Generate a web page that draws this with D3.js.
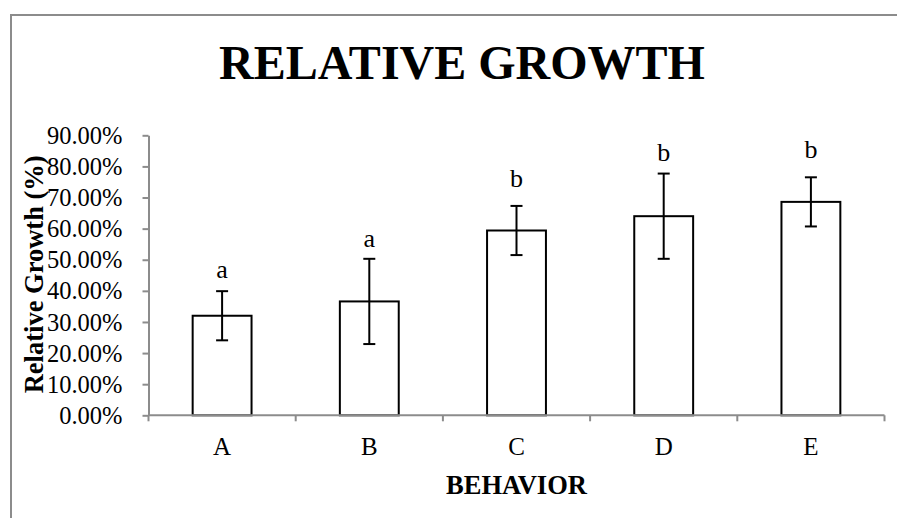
<!DOCTYPE html>
<html>
<head>
<meta charset="utf-8">
<script src="https://cdn.jsdelivr.net/npm/d3@7"></script>
<style>
  html, body { margin: 0; padding: 0; background: #fff; }
  svg { display: block; }
</style>
</head>
<body>
<svg id="chart" width="897" height="518"></svg>
<script>
// ---- data ----
const categories = ["A", "B", "C", "D", "E"];
const values     = [32.0, 36.6, 59.4, 64.0, 68.6];   // %
const errors     = [7.9, 13.7, 7.9, 13.7, 7.9];      // % (+/-)
const letters    = ["a", "a", "b", "b", "b"];
const letterPos  = [44.0, 54.2, 73.5, 81.7, 82.6];   // % (label baseline)
const yTicks     = [0, 10, 20, 30, 40, 50, 60, 70, 80, 90];
const titleText  = "RELATIVE GROWTH";
const xTitle     = "BEHAVIOR";
const yTitle     = "Relative Growth (%)";

// ---- layout ----
(function () {
const svg = d3.select("#chart");
const pl = 148.5, pr = 884.5, pt = 135.3, pb = 415.3;
const serif = "'Liberation Serif', 'Times New Roman', serif";
const axisGray = "#8c8c8c";

// outer frame
svg.append("path")
  .attr("d", `M11,518 L11,15 L897,15`)
  .attr("fill", "none").attr("stroke", axisGray).attr("stroke-width", 2);

const x = d3.scaleBand().domain(categories).range([pl, pr]).paddingInner(0.6).paddingOuter(0.3);
const xb = d3.scaleBand().domain(categories).range([pl, pr]).padding(0);
const y = d3.scaleLinear().domain([0, 90]).range([pb, pt]);

// title
svg.append("text")
  .attr("x", 462).attr("y", 79)
  .attr("text-anchor", "middle")
  .attr("font-family", serif).attr("font-weight", "bold").attr("font-size", 48)
  .text(titleText);

// bars
const g = svg.append("g");
g.selectAll("rect.bar").data(categories).join("rect")
  .attr("class", "bar")
  .attr("x", d => x(d))
  .attr("width", x.bandwidth())
  .attr("y", (d, i) => y(values[i]))
  .attr("height", (d, i) => y(0) - y(values[i]))
  .attr("fill", "#fff").attr("stroke", "#000").attr("stroke-width", 2);

// error bars
const capW = 6;
categories.forEach((c, i) => {
  const cx = x(c) + x.bandwidth() / 2;
  const hi = y(values[i] + errors[i]), lo = y(values[i] - errors[i]);
  g.append("line").attr("x1", cx).attr("x2", cx).attr("y1", hi).attr("y2", lo)
    .attr("stroke", "#000").attr("stroke-width", 2);
  [hi, lo].forEach(yy => g.append("line")
    .attr("x1", cx - capW).attr("x2", cx + capW).attr("y1", yy).attr("y2", yy)
    .attr("stroke", "#000").attr("stroke-width", 2));
  g.append("text")
    .attr("x", cx).attr("y", y(letterPos[i]))
    .attr("text-anchor", "middle")
    .attr("font-family", serif).attr("font-size", 26)
    .text(letters[i]);
});

// y axis
const yAxis = svg.append("g").attr("transform", `translate(${pl},0)`)
  .call(d3.axisLeft(y).tickValues(yTicks).tickSize(6).tickSizeOuter(0)
        .tickFormat(d => d.toFixed(2) + "%"));
yAxis.select(".domain").attr("stroke", axisGray).attr("stroke-width", 2);
yAxis.selectAll(".tick line").attr("stroke", axisGray).attr("stroke-width", 2);
yAxis.selectAll(".tick text")
  .attr("font-family", serif).attr("font-size", 24.5).attr("fill", "#000")
  .attr("x", -26).attr("dy", "0.33em");

// x axis (ticks at band boundaries)
const bounds = categories.map(c => xb(c)).concat([pr]);
const xAxisG = svg.append("g");
xAxisG.append("line").attr("x1", pl).attr("x2", pr).attr("y1", pb).attr("y2", pb)
  .attr("stroke", axisGray).attr("stroke-width", 2);
xAxisG.selectAll("line.tk").data(bounds).join("line").attr("class", "tk")
  .attr("x1", d => d).attr("x2", d => d).attr("y1", pb).attr("y2", pb + 6)
  .attr("stroke", axisGray).attr("stroke-width", 2);
xAxisG.selectAll("text").data(categories).join("text")
  .attr("x", d => xb(d) + xb.bandwidth() / 2).attr("y", 455)
  .attr("text-anchor", "middle")
  .attr("font-family", serif).attr("font-size", 25)
  .text(d => d);

// axis titles
svg.append("text")
  .attr("x", (pl + pr) / 2).attr("y", 494)
  .attr("text-anchor", "middle")
  .attr("font-family", serif).attr("font-weight", "bold").attr("font-size", 26.5)
  .text(xTitle);
svg.append("text")
  .attr("transform", `translate(43,${(pt + pb) / 2 - 1}) rotate(-90)`)
  .attr("text-anchor", "middle")
  .attr("font-family", serif).attr("font-weight", "bold").attr("font-size", 26.5)
  .text(yTitle);
})();
</script>
</body>
</html>
